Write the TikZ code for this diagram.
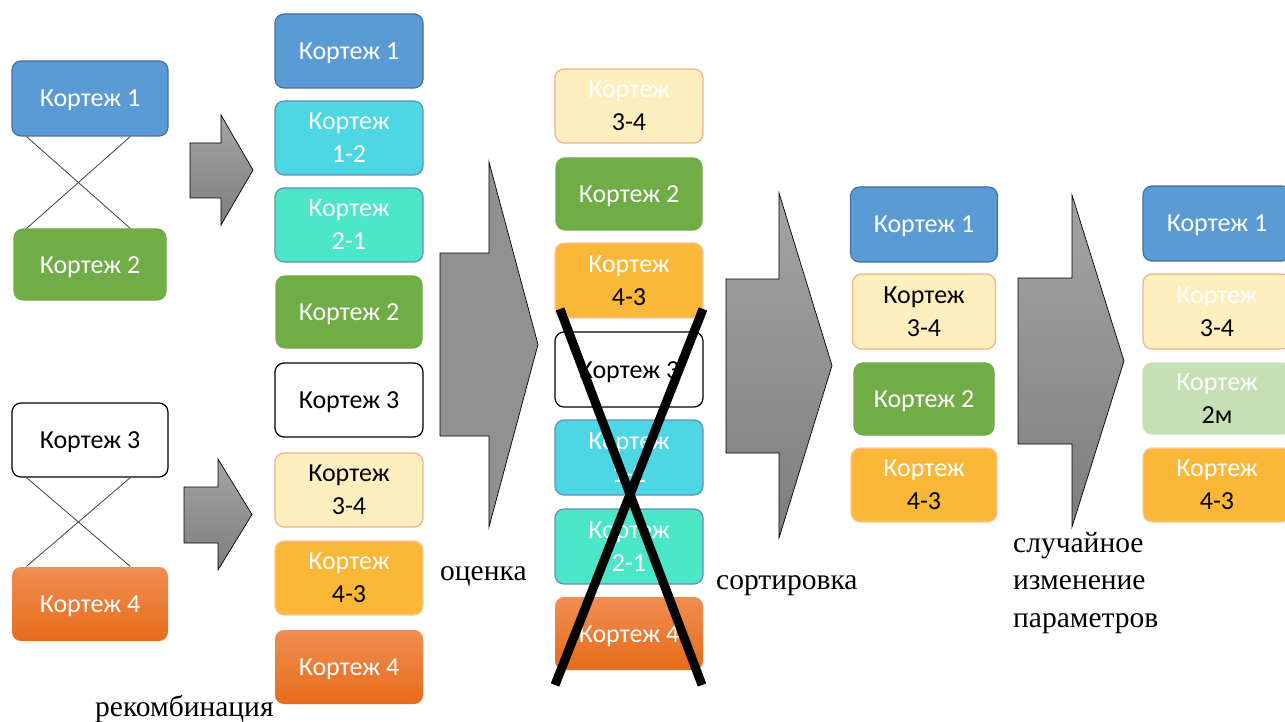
\documentclass[tikz,border=0pt]{standalone}
\usepackage{fontspec}
\setmainfont{Liberation Serif}
\newfontfamily\calfont{Carlito}
\usetikzlibrary{calc}
\definecolor{kblue}{HTML}{5B9BD5}
\definecolor{kblueb}{HTML}{41719C}
\definecolor{kgreen}{HTML}{70AD47}
\definecolor{kcyan}{HTML}{4DD6E4}
\definecolor{kturq}{HTML}{4CE6C8}
\definecolor{klyel}{HTML}{FFEFBF}
\definecolor{korb}{HTML}{F4B183}
\definecolor{kgold}{HTML}{FBB737}
\definecolor{kortop}{HTML}{F08D52}
\definecolor{korbot}{HTML}{E66C1A}
\definecolor{klgreen}{HTML}{C5E0B4}
\definecolor{agtop}{HTML}{A4A4A4}
\definecolor{agbot}{HTML}{7E7E7E}
\tikzset{
  x=1pt, y=-1pt,
  kb/.style={rounded corners=9pt, minimum width=148pt, minimum height=74pt, inner sep=0pt,
    align=center, text=white, font=\calfont\fontsize{26}{33}\selectfont, line width=1.2pt},
  sl/.style={text height=17pt, text depth=0pt},
  bluebox/.style={kb, fill=kblue, draw=kblueb},
  greenbox/.style={kb, fill=kgreen, draw=kgreen},
  cyanbox/.style={kb, fill=kcyan, draw=kblueb!80},
  turqbox/.style={kb, fill=kturq, draw=kblueb!80},
  whitebox/.style={kb, fill=white, draw=black, text=black},
  yelbox/.style={kb, fill=klyel, draw=korb},
  goldbox/.style={kb, fill=kgold, draw=korb!70},
  orbox/.style={kb, top color=kortop, bottom color=korbot, draw=none},
  lgbox/.style={kb, fill=klgreen, draw=klgreen},
  cross/.style={draw=black!75, line width=0.8pt},
  bigx/.style={draw=black, line width=9pt},
  garrow/.style={draw=black, line width=0.7pt, top color=agtop, bottom color=agbot},
  flatarrow/.style={draw=black, line width=0.7pt, fill=black!43},
  lbl/.style={font=\fontsize{29.5}{37.5}\selectfont, anchor=west, inner sep=0pt, align=left}
}
\newcommand\barrow[8]{% style, x0, shaft top, shaft bottom, head back, head top, head bottom, tip x
  \path[#1] (#2,#3) -- (#5,#3) -- (#5,#6) -- (#8,{(#6+#7)/2}) -- (#5,#7) -- (#5,#4) -- (#2,#4) -- cycle;}
\newcommand\wb[1]{\textcolor{black}{#1}}
\begin{document}
\begin{tikzpicture}
\useasboundingbox (0,0) rectangle (1285,722);
\clip (0,0) rectangle (1285,722);
% left column
\node[bluebox, sl, minimum width=156pt, minimum height=75pt] (l1) at (90,98.5) {Кортеж 1};
\node[greenbox, sl, minimum width=152pt, minimum height=71pt] (l2) at (90,264.5) {Кортеж 2};
\node[whitebox, sl, minimum width=156pt] (l3) at (90,440) {Кортеж 3};
\node[orbox, sl, minimum width=156pt] (l4) at (90,604) {Кортеж 4};
\draw[cross] ($(l1.south west)!0.096!(l1.south east)$) -- ($(l2.north west)!0.763!(l2.north east)$);
\draw[cross] ($(l1.south west)!0.756!(l1.south east)$) -- ($(l2.north west)!0.086!(l2.north east)$);
\draw[cross] ($(l3.south west)!0.096!(l3.south east)$) -- ($(l4.north west)!0.756!(l4.north east)$);
\draw[cross] ($(l3.south west)!0.756!(l3.south east)$) -- ($(l4.north west)!0.096!(l4.north east)$);
% arrows
\barrow{garrow}{190}{143}{198}{221}{115}{225}{253}
\barrow{garrow}{184}{487}{543}{218}{459}{570}{252}
\barrow{flatarrow}{440}{253}{436}{489}{162}{527}{538}
\barrow{garrow}{726}{279}{453}{779}{193}{538}{832}
\barrow{garrow}{1018}{278}{444}{1072}{195}{527}{1124}
% second column
\node[bluebox, sl] (a1) at (349,51) {Кортеж 1};
\node[cyanbox] (a12) at (349,138) {Кортеж\\1-2};
\node[turqbox] (a21) at (349,225) {Кортеж\\2-1};
\node[greenbox, sl, minimum width=146pt, minimum height=72pt] (a2) at (349,312) {Кортеж 2};
\node[whitebox, sl] (a3) at (349,400) {Кортеж 3};
\node[yelbox, text=black] (a34) at (349,490) {Кортеж\\3-4};
\node[goldbox] (a43) at (349,578) {Кортеж\\\wb{4-3}};
\node[orbox, sl] (a4) at (349,667) {Кортеж 4};
% third column
\node[yelbox] (b34) at (629,106) {Кортеж\\\wb{3-4}};
\node[greenbox, sl, minimum width=146pt, minimum height=72pt] (b2) at (629,194) {Кортеж 2};
\node[goldbox, minimum height=75pt] (b43) at (629,280.5) {Кортеж\\\wb{4-3}};
\node[whitebox, sl, minimum height=75pt] (b3) at (629,369.5) {Кортеж 3};
\node[cyanbox, minimum height=75pt] (b12) at (629,457.5) {Кортеж\\1-2};
\node[turqbox, minimum height=75pt] (b21) at (629,546.5) {Кортеж\\2-1};
\node[orbox, sl, minimum height=73pt] (b4) at (629,633.5) {Кортеж 4};
\coordinate (x1a) at (560,309);
\coordinate (x1b) at (702,685);
\coordinate (x2a) at (703,309);
\coordinate (x2b) at (555,685);
\draw[bigx] (x1a) -- (x1b);
\draw[bigx] (x2a) -- (x2b);
% fourth column
\node[bluebox, sl, minimum width=147pt, minimum height=75pt] (c1) at (924,224.5) {Кортеж 1};
\node[yelbox, text=black, minimum width=143pt, minimum height=75pt] (c34) at (924,311.5) {Кортеж\\3-4};
\node[greenbox, sl, minimum width=140pt, minimum height=72pt] (c2) at (924,399) {Кортеж 2};
\node[goldbox, minimum width=146pt] (c43) at (924,485) {Кортеж\\\wb{4-3}};
% fifth column
\node[bluebox, sl, minimum height=75pt] (d1) at (1217,223.5) {Кортеж 1};
\node[yelbox, minimum height=75pt] (d34) at (1217,311.5) {Кортеж\\\wb{3-4}};
\node[lgbox, minimum height=71pt] (d2m) at (1217,398.5) {Кортеж\\\wb{2м}};
\node[goldbox] (d43) at (1217,485) {Кортеж\\\wb{4-3}};
% labels
\node[lbl] (t1) at (95,709) {рекомбинация};
\node[lbl] (t2) at (440,576) {оценка};
\node[lbl] (t3) at (716,586) {сортировка};
\node[lbl] (t4) at (1013,583) {случайное\\изменение\\параметров};
\end{tikzpicture}
\end{document}
